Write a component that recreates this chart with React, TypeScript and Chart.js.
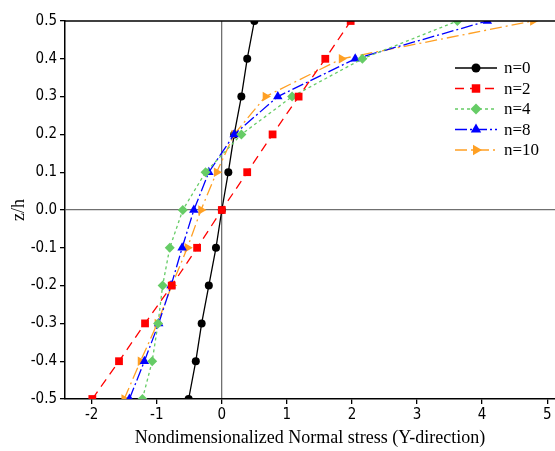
import React, { useEffect, useRef } from 'react';
import { Chart, registerables } from 'chart.js';

Chart.register(...registerables);

const zLevels = [-0.5, -0.4, -0.3, -0.2, -0.1, 0, 0.1, 0.2, 0.3, 0.4, 0.5];
const seriesLabels = ['n=0', 'n=2', 'n=4', 'n=8', 'n=10'];
const stressN0 = [-0.51, -0.4, -0.31, -0.2, -0.09, 0, 0.1, 0.19, 0.3, 0.39, 0.5];
const stressN2 = [-1.99, -1.58, -1.18, -0.77, -0.38, 0, 0.39, 0.78, 1.18, 1.59, 1.98];
const stressN4 = [-1.22, -1.07, -0.98, -0.91, -0.8, -0.6, -0.25, 0.3, 1.08, 2.16, 3.62];
const stressN8 = [-1.42, -1.19, -0.97, -0.78, -0.61, -0.43, -0.2, 0.19, 0.86, 2.05, 4.08];
const stressN10 = [-1.5, -1.25, -0.99, -0.77, -0.53, -0.32, -0.08, 0.19, 0.67, 1.84, 4.78];
const xTickValues = [-2, -1, 0, 1, 2, 3, 4, 5];
const yTickValues = [-0.5, -0.4, -0.3, -0.2, -0.1, 0, 0.1, 0.2, 0.3, 0.4, 0.5];

const seriesValues = [stressN0, stressN2, stressN4, stressN8, stressN10];
const seriesColors = ['#000000', '#ff0000', '#66cc66', '#0000ff', '#ffa024'];
const seriesDash = [[], [9, 6], [3, 3], [12, 3, 2, 3], [12, 4, 2, 4]];
const seriesPoint = ['circle', 'rect', 'rectRot', 'triangle', 'triangle'];
const seriesRadius = [4, 5.5, 5, 5.5, 5.5];
const seriesRotation = [0, 0, 0, 0, 90];

function drawMarker(ctx: CanvasRenderingContext2D, style: string, x: number, y: number, r: number, rotation: number) {
  const rad = (rotation * Math.PI) / 180;
  ctx.beginPath();
  if (style === 'circle') {
    ctx.arc(x, y, r, 0, Math.PI * 2);
  } else if (style === 'rect') {
    const s = Math.SQRT1_2 * r;
    ctx.rect(x - s, y - s, 2 * s, 2 * s);
  } else if (style === 'rectRot') {
    ctx.moveTo(x, y - r);
    ctx.lineTo(x + r, y);
    ctx.lineTo(x, y + r);
    ctx.lineTo(x - r, y);
    ctx.closePath();
  } else if (style === 'triangle') {
    let a = rad;
    ctx.moveTo(x + Math.sin(a) * r, y - Math.cos(a) * r);
    a += (2 * Math.PI) / 3;
    ctx.lineTo(x + Math.sin(a) * r, y - Math.cos(a) * r);
    a += (2 * Math.PI) / 3;
    ctx.lineTo(x + Math.sin(a) * r, y - Math.cos(a) * r);
    ctx.closePath();
  }
  ctx.fill();
}

const stretchPlugin = {
  id: 'stretchPlugin',
  afterLayout(chart: any) {
    const w = chart.width;
    const area = chart.chartArea;
    area.right = w;
    area.width = w - area.left;
    const xs = chart.scales.x;
    xs.right = w;
    xs.width = w - xs.left;
    xs.configure();
  },
};

const framePlugin = {
  id: 'framePlugin',
  afterDraw(chart: any) {
    const { ctx, chartArea } = chart;
    ctx.save();
    ctx.strokeStyle = '#000';
    ctx.lineWidth = 1.5;
    ctx.beginPath();
    ctx.moveTo(chartArea.left, chartArea.top);
    ctx.lineTo(chartArea.right, chartArea.top);
    ctx.stroke();

    // legend
    const x0 = chartArea.right - 100;
    const x1 = chartArea.right - 58;
    const xm = (x0 + x1) / 2;
    const yStart = chartArea.top + 47;
    const step = 20.5;
    ctx.font = '17px "Liberation Serif"';
    ctx.textBaseline = 'middle';
    ctx.textAlign = 'left';
    seriesLabels.forEach((label, i) => {
      const y = yStart + i * step;
      ctx.strokeStyle = seriesColors[i];
      ctx.fillStyle = seriesColors[i];
      ctx.lineWidth = 1.3;
      ctx.setLineDash(seriesDash[i]);
      ctx.beginPath();
      ctx.moveTo(x0, y);
      ctx.lineTo(x1, y);
      ctx.stroke();
      ctx.setLineDash([]);
      drawMarker(ctx, seriesPoint[i], xm, y, seriesRadius[i] + 0.5, seriesRotation[i]);
      ctx.fillStyle = '#000';
      ctx.fillText(label, x1 + 7, y + 1);
    });
    ctx.restore();
  },
};

export default function App() {
  const canvasRef = useRef<HTMLCanvasElement | null>(null);

  useEffect(() => {
    document.body.style.margin = '0';
    const canvas = canvasRef.current;
    if (!canvas) return;
    const datasets = seriesLabels.map((label, i) => ({
      label,
      data: zLevels.map((z, j) => ({ x: seriesValues[i][j], y: z })),
      borderColor: seriesColors[i],
      backgroundColor: seriesColors[i],
      borderWidth: 1.3,
      borderDash: seriesDash[i],
      pointStyle: seriesPoint[i],
      pointRadius: seriesRadius[i],
      pointRotation: seriesRotation[i],
      pointBorderWidth: 0,
      pointBackgroundColor: seriesColors[i],
      showLine: true,
      tension: 0,
      order: i === 0 ? 5 : i,
    }));

    const chart = new Chart(canvas, {
      type: 'scatter',
      data: { datasets: datasets as any },
      options: {
        animation: false,
        responsive: false,
        maintainAspectRatio: false,
        layout: { padding: { top: 21, right: 0, left: 0, bottom: 0 } },
        plugins: {
          legend: { display: false },
          tooltip: { enabled: false },
        },
        scales: {
          x: {
            type: 'linear',
            min: -2.41,
            max: 5.12,
            afterBuildTicks: (scale: any) => {
              scale.ticks = xTickValues.map((v) => ({ value: v }));
            },
            afterFit: (scale: any) => {
              scale.height = 52;
            },
            ticks: {
              color: '#000',
              padding: 2,
              font: { family: '"DejaVu Sans Condensed", "DejaVu Sans"', size: 15 },
              callback: (v: any) => String(v),
            },
            grid: {
              color: (c: any) => (c.tick && c.tick.value === 0 ? '#707070' : 'rgba(0,0,0,0)'),
              lineWidth: 1.3,
              drawTicks: true,
              tickLength: 5,
              tickColor: '#000',
            },
            border: { display: true, color: '#000', width: 1.5 },
            title: {
              display: true,
              text: 'Nondimensionalized Normal stress (Y-direction)',
              color: '#000',
              font: { family: '"Liberation Serif"', size: 18 },
              padding: { top: 0, bottom: 2 },
            },
          },
          y: {
            type: 'linear',
            min: -0.5,
            max: 0.5,
            afterBuildTicks: (scale: any) => {
              scale.ticks = yTickValues.map((v) => ({ value: v }));
            },
            afterFit: (scale: any) => {
              scale.width = 65;
            },
            ticks: {
              color: '#000',
              padding: 3,
              font: { family: '"DejaVu Sans Condensed", "DejaVu Sans"', size: 15 },
              callback: (v: any) => Number(v).toFixed(1),
            },
            grid: {
              color: (c: any) => (c.tick && Math.abs(c.tick.value) < 1e-9 ? '#707070' : 'rgba(0,0,0,0)'),
              lineWidth: 1.3,
              drawTicks: true,
              tickLength: 5,
              tickColor: '#000',
            },
            border: { display: true, color: '#000', width: 1.5 },
            title: {
              display: true,
              text: 'z/h',
              color: '#000',
              font: { family: '"Liberation Serif"', size: 18 },
              padding: { top: 8, bottom: 0 },
            },
          },
        },
      },
      plugins: [stretchPlugin, framePlugin],
    });

    return () => {
      chart.destroy();
    };
  }, []);

  return (
    <div style={{ position: 'fixed', left: 0, top: 0, width: 555, height: 451 }}>
      <canvas ref={canvasRef} width={555} height={451} style={{ display: 'block', width: 555, height: 451 }} />
    </div>
  );
}
